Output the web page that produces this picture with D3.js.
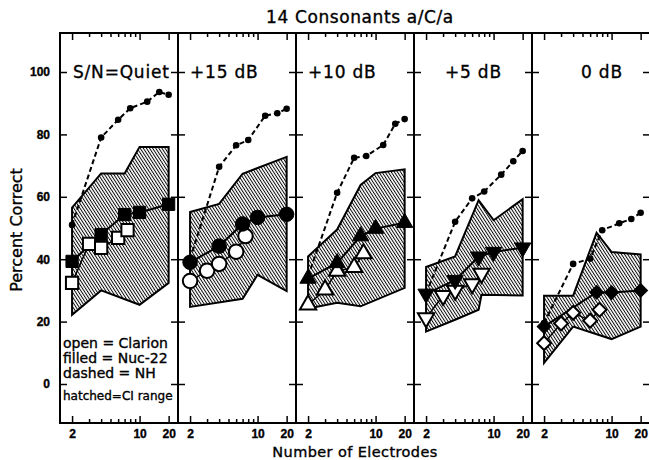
<!DOCTYPE html>
<html>
<head>
<meta charset="utf-8">
<script src="https://cdn.jsdelivr.net/npm/d3@7"></script>
<style>
  body { margin: 0; background: #fff; }
  text { font-family: "DejaVu Sans", sans-serif; fill: #000; stroke: #000; stroke-width: 0.35px; }
</style>
</head>
<body>
<div id="chart_container"></div>
<script>
// values
const panel_labels = ["S/N=Quiet", "+15 dB", "+10 dB", "+5 dB", "0 dB"];
const panel_symbols = ["square", "circle", "triangle", "triangleDown", "diamond"];

const nh_electrodes = [2, 4, 6, 8, 12, 16, 20];
const nh_scores = [
    [51, 79, 84.7, 88.4, 90.5, 93.6, 92.7],
    [40, 69.6, 76.5, 78.2, 86, 86.8, 88.2],
    [34.5, 61.3, 72.5, 73.1, 76.6, 83.4, 84.9],
    [29, 52, 59.5, 61.7, 67.1, 71.4, 74.7],
    [19.5, 38.5, 40.2, 49.3, 51.5, 52.9, 54.9]
];

const nuc_electrodes = [2, 4, 7, 10, 20];
const nuc_scores = [
    [39.3, 47.9, 54.3, 55, 57.6],
    [39, 44.2, 51.3, 53.4, 54.4],
    [33.8, 38.8, 47.4, 49.8, 51.7],
    [28.9, 33.3, 40.8, 42.3, 43.7],
    [18.4, null, 29.4, 29.3, 30]
];

const clarion_electrodes = [2, 3, 4, 6, 7.5];
const clarion_scores = [
    [32.4, 44.9, 43.6, 46.8, 49.3],
    [33, 36.3, 38.5, 42.4, 47.4],
    [25.4, 30.2, 36.2, 37.4, 41.8],
    [21.2, 28.3, 30, 32.1, 35.4],
    [13.1, 19.4, 22.8, 20.3, 23.8]
];

// CI range outline, [electrodes, percent]
const ci_upper = [
    [[2, 56.5], [4, 67.5], [7, 67.5], [10, 76], [20, 76]],
    [[2, 55.1], [4, 57.7], [7, 67.4], [20, 72.8]],
    [[2, 40.9], [4, 49.5], [7, 63.8], [10, 67.6], [20, 68.8]],
    [[2, 37.5], [4, 40.9], [7, 58.9], [10, 52.5], [20, 59.2]],
    [[2, 28.3], [4, 28.3], [7, 48.5], [10, 42.3], [20, 41.5]]
];
const ci_lower = [
    [[2, 22.2], [4, 30], [10, 25.4], [20, 32.4]],
    [[2, 24.7], [7, 27.3], [10, 35], [20, 29.8]],
    [[2, 24.2], [4, 26], [7, 24.9], [20, 30.8]],
    [[2, 16.8], [4, 20.6], [7, 23.8], [7.5, 28.6], [20, 28.4]],
    [[2, 6.8], [4, 18.4], [10, 14.4], [20, 18.4]]
];

const y_ticks = [0, 20, 40, 60, 80, 100];
const x_major = [2, 10, 20];
const x_minor = [3, 4, 5, 6, 7, 8, 9];

const plot_left = 60, plot_top = 33, panel_w = 118, plot_h = 390;
const label_x = [73, 190, 308, 445, 581];

const svg = d3.select("#chart_container")
    .append("svg")
    .attr("width", 649)
    .attr("height", 460);

// hatch pattern
svg.append("defs").append("pattern")
    .attr("id", "hatch")
    .attr("patternUnits", "userSpaceOnUse")
    .attr("width", 2.6)
    .attr("height", 10)
    .attr("patternTransform", "rotate(-33)")
    .append("line")
    .attr("x1", 0.5).attr("y1", 0)
    .attr("x2", 0.5).attr("y2", 10)
    .attr("stroke", "#000")
    .attr("stroke-width", 0.95);

const y = d3.scaleLinear()
    .domain([-12.5, 112.5])
    .range([plot_top + plot_h, plot_top]);

const symbol_types = {
    square: d3.symbolSquare,
    circle: d3.symbolCircle,
    triangle: d3.symbolTriangle,
    triangleDown: d3.symbolTriangle,
    diamond: d3.symbolSquare
};
const symbol_sizes = { square: 150, circle: 165, triangle: 115, triangleDown: 115, diamond: 95 };
const symbol_rotate = { square: 0, circle: 0, triangle: 0, triangleDown: 180, diamond: 45 };

function drawPanel(i) {
    const left = plot_left + i * panel_w;
    const x = d3.scaleLog()
        .domain([1.5, 25])
        .range([left, left + panel_w]);

    const g = svg.append("g").classed("panel", true);

    // hatched CI range
    const outline = ci_upper[i].concat(ci_lower[i].slice().reverse());
    g.append("path")
        .attr("d", d3.line().x(d => x(d[0])).y(d => y(d[1])).curve(d3.curveLinearClosed)(outline))
        .attr("fill", "url(#hatch)")
        .attr("stroke", "#000")
        .attr("stroke-width", 2)
        .attr("stroke-linejoin", "miter");

    // NH dashed
    const nh = nh_electrodes.map((e, k) => [e, nh_scores[i][k]]);
    g.append("path")
        .attr("d", d3.line().x(d => x(d[0])).y(d => y(d[1]))(nh))
        .attr("fill", "none")
        .attr("stroke", "#000")
        .attr("stroke-width", 2)
        .attr("stroke-dasharray", "5,3");
    g.selectAll(".nh")
        .data(nh)
        .enter()
        .append("circle")
        .attr("cx", d => x(d[0]))
        .attr("cy", d => y(d[1]))
        .attr("r", 3.3)
        .attr("fill", "#000");

    const sym = panel_symbols[i];
    const shape = d3.symbol().type(symbol_types[sym]).size(symbol_sizes[sym]);

    // Clarion, open
    const cl = clarion_electrodes.map((e, k) => [e, clarion_scores[i][k]]);
    g.append("path")
        .attr("d", d3.line().x(d => x(d[0])).y(d => y(d[1]))(cl))
        .attr("fill", "none")
        .attr("stroke", "#000")
        .attr("stroke-width", 1.5);

    // Nucleus-22, filled
    const nuc = nuc_electrodes.map((e, k) => [e, nuc_scores[i][k]]).filter(d => d[1] !== null);
    g.append("path")
        .attr("d", d3.line().x(d => x(d[0])).y(d => y(d[1]))(nuc))
        .attr("fill", "none")
        .attr("stroke", "#000")
        .attr("stroke-width", 2);

    g.selectAll(".open")
        .data(cl)
        .enter()
        .append("path")
        .attr("d", shape)
        .attr("transform", d => `translate(${x(d[0])},${y(d[1])}) rotate(${symbol_rotate[sym]})`)
        .attr("fill", "#fff")
        .attr("stroke", "#000")
        .attr("stroke-width", 2);

    g.selectAll(".filled")
        .data(nuc)
        .enter()
        .append("path")
        .attr("d", shape)
        .attr("transform", d => `translate(${x(d[0])},${y(d[1])}) rotate(${symbol_rotate[sym]})`)
        .attr("fill", "#000")
        .attr("stroke", "#000")
        .attr("stroke-width", 1);

    // axes, ticks pointing inward
    const bottom = svg.append("g")
        .attr("transform", `translate(0, ${plot_top + plot_h})`)
        .call(d3.axisBottom(x).tickValues(x_major).tickFormat(d3.format("d")).tickSizeInner(-7).tickSizeOuter(0).tickPadding(6));
    bottom.selectAll("text")
        .style("font-family", "'Liberation Sans', sans-serif")
        .style("font-weight", "bold")
        .style("font-size", "12px");
    svg.append("g")
        .attr("transform", `translate(0, ${plot_top + plot_h})`)
        .call(d3.axisBottom(x).tickValues(x_minor).tickFormat("").tickSizeInner(-4).tickSizeOuter(0));
    svg.append("g")
        .attr("transform", `translate(0, ${plot_top})`)
        .call(d3.axisTop(x).tickValues(x_major).tickFormat("").tickSizeInner(-7).tickSizeOuter(0));
    svg.append("g")
        .attr("transform", `translate(0, ${plot_top})`)
        .call(d3.axisTop(x).tickValues(x_minor).tickFormat("").tickSizeInner(-4).tickSizeOuter(0));

    const leftAxis = svg.append("g")
        .attr("transform", `translate(${left}, 0)`)
        .call(d3.axisLeft(y).tickValues(y_ticks).tickSizeInner(-7).tickSizeOuter(0).tickPadding(i === 0 ? 10 : 0)
            .tickFormat(i === 0 ? d3.format("d") : ""));
    leftAxis.selectAll("text")
        .style("font-family", "'Liberation Sans', sans-serif")
        .style("font-weight", "bold")
        .style("font-size", "12px");
    svg.append("g")
        .attr("transform", `translate(${left + panel_w}, 0)`)
        .call(d3.axisRight(y).tickValues(y_ticks).tickSizeInner(-7).tickSizeOuter(0).tickFormat(""));

    svg.selectAll(".domain").remove();
    svg.selectAll(".tick line").attr("stroke-width", 1.5);

    // frame
    svg.append("rect")
        .attr("x", left)
        .attr("y", plot_top)
        .attr("width", panel_w)
        .attr("height", plot_h)
        .attr("fill", "none")
        .attr("stroke", "#000")
        .attr("stroke-width", 2);

    // panel label
    g.append("text")
        .attr("x", label_x[i])
        .attr("y", y(100) + 6)
        .style("font-size", "17px")
        .style("letter-spacing", "0.8px")
        .style("white-space", "pre")
        .text(panel_labels[i]);
}

for (let i = 0; i < panel_labels.length; i++) drawPanel(i);

// legend notes in first panel
const notes = ["open = Clarion", "filled = Nuc-22", "dashed = NH"];
svg.selectAll(".note")
    .data(notes)
    .enter()
    .append("text")
    .attr("x", 63)
    .attr("y", (d, k) => 348 + k * 15)
    .style("font-size", "14px")
    .text(d => d);
svg.append("text")
    .attr("x", 63)
    .attr("y", 400)
    .style("font-size", "12px")
    .text("hatched=CI range");

// titles
svg.append("text")
    .attr("x", 360)
    .attr("y", 23)
    .attr("text-anchor", "middle")
    .style("font-size", "17px")
    .style("letter-spacing", "0.6px")
    .text("14 Consonants a/C/a");

svg.append("text")
    .attr("x", 355)
    .attr("y", 457)
    .attr("text-anchor", "middle")
    .style("font-size", "14.5px")
    .style("letter-spacing", "0.4px")
    .text("Number of Electrodes");

svg.append("text")
    .attr("transform", "translate(22, 230) rotate(-90)")
    .attr("text-anchor", "middle")
    .style("font-size", "16px")
    .text("Percent Correct");
</script>
</body>
</html>
